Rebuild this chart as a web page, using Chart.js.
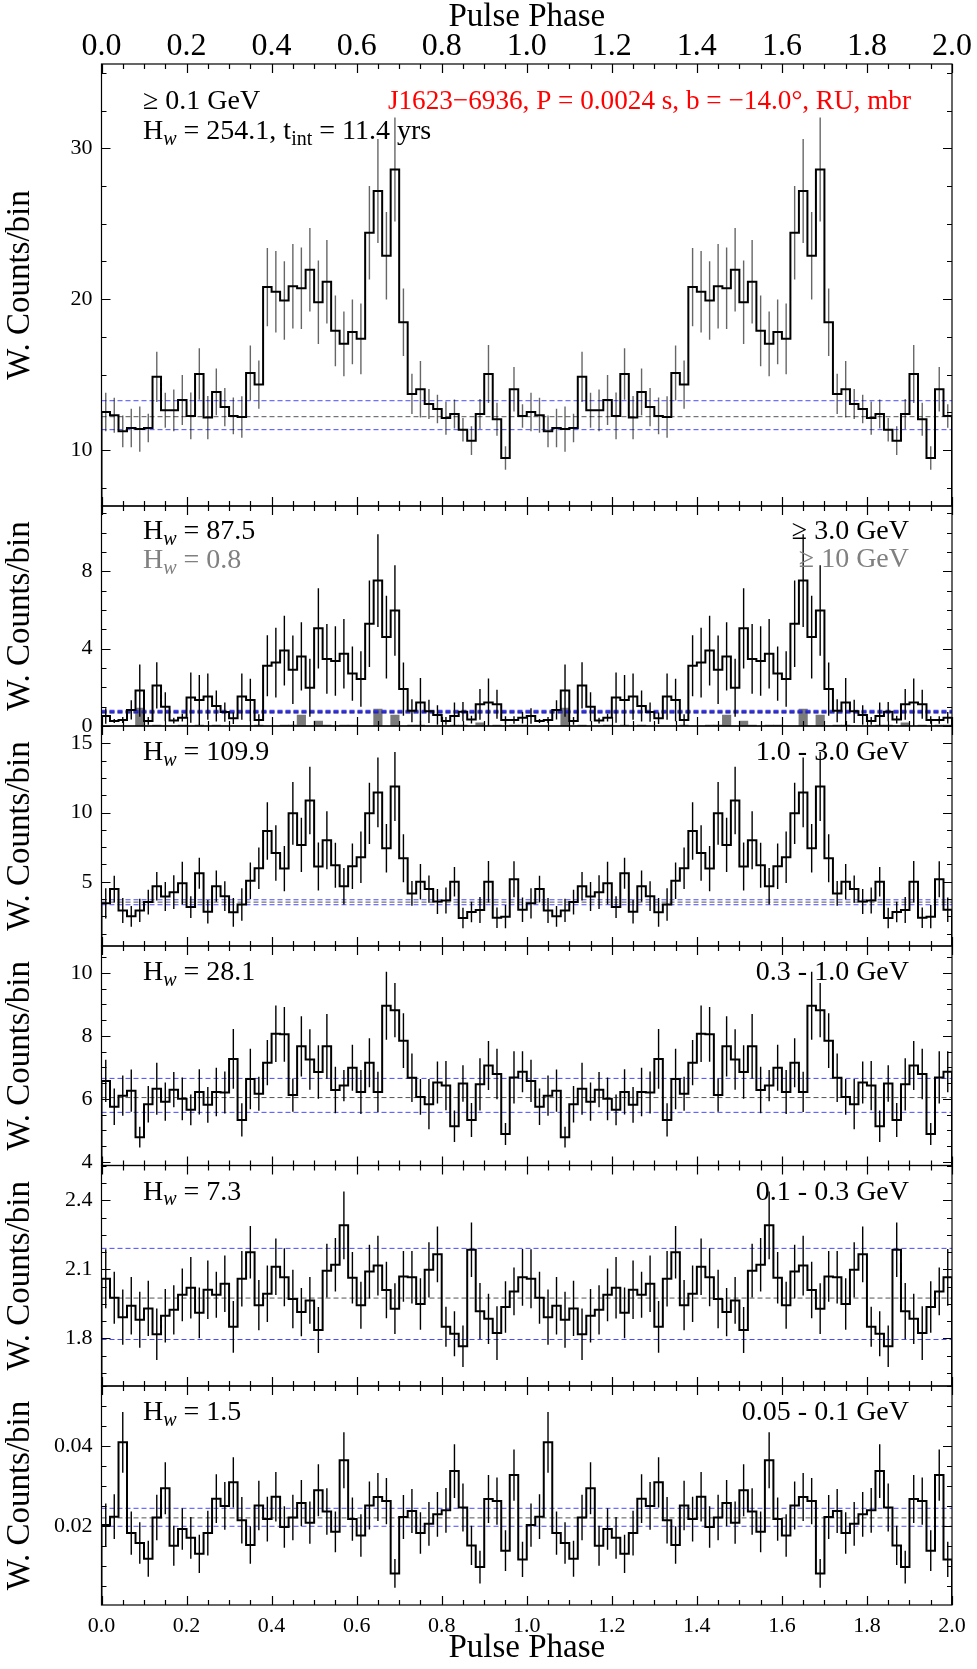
<!DOCTYPE html>
<html><head><meta charset="utf-8">
<script src="https://cdn.jsdelivr.net/npm/chart.js@4.4.1/dist/chart.umd.min.js"></script>
<style>html,body{margin:0;padding:0;background:#fff;}canvas{display:block;}</style>
</head><body>
<canvas id="c" width="977" height="1669"></canvas>
<script>
// ---------------- DATA (one rotation, 50 phase bins; plotted twice) ----------------
const BIN = 0.02;
const xTickValues = [0, 0.2, 0.4, 0.6, 0.8, 1.0, 1.2, 1.4, 1.6, 1.8, 2.0];
const xTickLabels = ['0.0','0.2','0.4','0.6','0.8','1.0','1.2','1.4','1.6','1.8','2.0'];

// >= 0.1 GeV
const countsAll = [12.52,12.3,11.24,11.46,11.39,11.46,14.85,12.63,12.63,13.32,12.26,15.04,12.15,13.85,12.85,12.26,12.19,15.11,14.34,20.8,20.49,19.91,20.86,20.73,21.95,19.8,21.15,17.9,17.04,17.83,17.37,24.4,27.17,22.88,28.6,18.47,13.72,14.03,13.05,12.72,12.12,12.39,11.35,10.62,12.39,15.04,12.04,9.47,14.03,12.26];
const errAll = [1.27,1.16,1.05,1.27,1.5,0.95,1.66,1.16,1.38,1.66,1.55,1.7,1.44,1.55,1.27,1.22,1.38,1.82,1.6,2.6,2.7,2.6,2.8,2.7,2.77,2.77,2.77,2.35,2.15,2.15,2.35,3.1,3.45,2.9,3.45,2.24,1.33,1.88,1.0,0.95,1.1,0.96,0.78,0.95,1.0,1.93,1.1,0.78,1.48,0.78];
const bkgAll = [13.27, 12.21, 11.35];
const yTicksAll = [10, 20, 30];
const yLabelsAll = ['10', '20', '30'];

// >= 3.0 GeV and >= 10 GeV
const counts3 = [0.52,0.26,0.31,0.83,1.83,0.26,2.1,1.0,0.28,0.43,1.47,1.34,1.52,1.03,0.72,0.4,1.52,1.34,0.31,3.12,3.28,3.9,2.91,3.6,1.98,5.05,3.47,3.36,3.74,2.71,2.43,5.29,7.52,4.6,5.97,1.91,0.79,1.21,0.76,0.57,0.26,0.52,0.74,0.33,1.12,1.21,1.12,0.31,0.31,0.43];
const err3 = [0.4,0.1,0.15,0.5,1.35,0.2,1.2,0.75,0.15,0.2,1.3,1.3,1.2,0.8,0.5,0.3,1.2,1.1,0.3,1.58,1.8,1.8,1.77,1.77,1.5,2.07,1.8,1.8,1.8,1.4,1.44,2.24,2.4,2.14,2.34,1.38,0.6,1.27,0.6,0.5,0.2,0.7,0.5,0.2,0.8,1.25,0.75,0.2,0.2,0.3];
const counts10 = [0,0,0,0,0.93,0,0.05,0,0,0.05,0,0.05,0,0.05,0,0,0,0,0.05,0,0,0.05,0.05,0.57,0,0.26,0.05,0,0.05,0.05,0,0,0.88,0,0.57,0,0.05,0.05,0,0,0,0.05,0.05,0,0.17,0,0.05,0,0.05,0.05];
const bkg3 = [0.79, 0.74, 0.69];
const yTicks3 = [0, 4, 8];
const yLabels3 = ['0', '4', '8'];

// 1.0 - 3.0 GeV
const counts13 = [3.44,4.47,2.93,2.5,2.93,3.53,4.68,3.94,4.25,4.9,3.17,5.62,2.84,4.68,3.96,2.79,3.36,5.07,5.98,8.67,7.08,5.95,9.94,7.66,10.87,6.1,8.0,6.19,4.68,6.12,6.77,9.94,11.45,7.42,11.88,6.7,4.16,5.0,4.47,3.58,3.65,5.0,2.38,2.81,2.96,5.0,2.4,2.48,5.19,2.98];
const err13 = [1.1,0.96,0.9,0.75,0.84,0.9,1.03,1.05,1.22,1.55,0.78,1.12,0.85,1.13,1.08,1.04,1.18,1.32,1.5,2.08,2.0,1.64,2.27,1.96,2.43,1.73,2.1,1.62,1.32,1.64,1.86,2.22,2.52,1.76,2.5,1.74,0.9,1.28,0.98,0.9,0.94,1.06,0.74,0.74,0.94,1.5,0.74,0.84,1.3,0.88];
const bkg13 = [3.70, 3.53, 3.34];
const yTicks13 = [5, 10, 15];
const yLabels13 = ['5', '10', '15'];

// 0.3 - 1.0 GeV
const counts031 = [6.57,5.75,6.1,6.26,4.78,5.83,6.32,5.91,6.29,6.0,5.65,6.22,5.81,6.22,6.2,7.27,5.33,6.63,6.16,7.15,8.07,8.05,6.12,7.67,7.25,6.85,7.67,6.28,6.42,6.99,6.22,7.15,6.22,8.96,8.82,7.85,6.67,6.06,5.83,6.52,6.42,5.13,6.49,5.33,6.46,7.06,6.79,4.88,6.68,6.86];
const err031 = [0.67,0.58,0.64,0.67,0.33,0.58,0.83,0.61,0.56,0.68,0.49,0.72,0.57,0.77,0.67,0.95,0.53,0.96,0.54,0.72,0.9,0.87,0.53,0.96,0.96,0.85,1.03,0.74,0.5,0.73,0.7,0.78,0.64,1.08,0.86,0.87,0.77,0.57,0.8,0.67,0.78,0.5,0.58,0.54,0.83,0.78,0.8,0.35,0.83,0.65];
const bkg031 = [6.65, 6.04, 5.57];
const yTicks031 = [4, 6, 8, 10];
const yLabels031 = ['4', '6', '8', '10'];

// 0.1 - 0.3 GeV
const counts0103 = [2.059,1.976,1.892,1.942,1.881,1.930,1.818,1.898,1.924,1.989,2.020,1.911,2.011,1.989,2.037,1.850,2.059,2.174,1.944,1.994,2.111,2.066,1.971,1.914,1.965,1.836,2.094,2.120,2.291,2.063,1.944,2.090,2.116,2.010,1.929,2.069,2.065,1.949,2.098,2.165,1.850,1.820,1.766,2.185,1.918,1.885,1.823,1.936,2.004,2.065];
const err0103 = [0.128,0.113,0.12,0.125,0.122,0.12,0.112,0.116,0.107,0.115,0.134,0.11,0.127,0.1,0.123,0.112,0.121,0.114,0.109,0.123,0.123,0.126,0.127,0.105,0.102,0.1,0.117,0.116,0.147,0.112,0.102,0.117,0.13,0.123,0.11,0.11,0.114,0.112,0.12,0.121,0.087,0.098,0.09,0.118,0.122,0.109,0.117,0.112,0.104,0.123];
const bkg0103 = [2.191, 1.975, 1.795];
const yTicks0103 = [1.8, 2.1, 2.4];
const yLabels0103 = ['1.8', '2.1', '2.4'];

// 0.05 - 0.1 GeV
const counts0501 = [0.0203,0.0224,0.0410,0.0183,0.0158,0.0119,0.0222,0.0295,0.0151,0.0193,0.0171,0.0131,0.0183,0.0269,0.0251,0.0310,0.0215,0.0153,0.0252,0.0218,0.0274,0.0198,0.0222,0.0258,0.0209,0.0290,0.0237,0.0186,0.0365,0.0218,0.0177,0.0252,0.0273,0.0263,0.0082,0.0223,0.0238,0.0183,0.0206,0.0230,0.0240,0.0338,0.0247,0.0152,0.0098,0.0268,0.0263,0.0139,0.0328,0.0117];
const err0501 = [0.0054,0.0056,0.0076,0.0054,0.0052,0.0045,0.0057,0.0065,0.005,0.0052,0.0052,0.0048,0.0056,0.0061,0.006,0.0063,0.0058,0.0047,0.0062,0.0056,0.0062,0.0052,0.0057,0.0058,0.0053,0.0065,0.0058,0.0051,0.007,0.0054,0.0053,0.006,0.006,0.0058,0.0036,0.0055,0.0055,0.0052,0.0055,0.0056,0.0056,0.0067,0.006,0.0049,0.0041,0.006,0.0059,0.0051,0.0064,0.0044];
const bkg0501 = [0.0245, 0.0221, 0.0200];
const yTicks0501 = [0.02, 0.04];
const yLabels0501 = ['0.02', '0.04'];

const hwValues = ['254.1', '87.5', '109.9', '28.1', '7.3', '1.5'];
const hw10 = '0.8';
const energyLabels = ['\u2265 0.1 GeV', '\u2265 3.0 GeV', '1.0 - 3.0 GeV', '0.3 - 1.0 GeV', '0.1 - 0.3 GeV', '0.05 - 0.1 GeV'];
const energy10 = '\u2265 10 GeV';
const tIntYears = '11.4';
const pulsarTitle = 'J1623\u22126936, P = 0.0024 s, b = \u221214.0\u00b0, RU, mbr';

// ---------------- PANEL SETUP ----------------
const FONT = "'Liberation Serif','Times New Roman',serif";
const panels = [
  {id:'y1', c:countsAll, e:errAll, b:bkgAll, t:yTicksAll, l:yLabelsAll, min:6.29, max:35.59, minor:2.5, h:442, ec:'rgba(0,0,0,0.6)', bw:1},
  {id:'y2', c:counts3, e:err3, b:bkg3, t:yTicks3, l:yLabels3, min:0, max:11.38, minor:1, h:220, ec:'#000', bw:2},
  {id:'y3', c:counts13, e:err13, b:bkg13, t:yTicks13, l:yLabels13, min:0.36, max:16.25, minor:1.25, h:220, ec:'#000', bw:1},
  {id:'y4', c:counts031, e:err031, b:bkg031, t:yTicks031, l:yLabels031, min:3.88, max:10.86, minor:0.5, h:219.5, ec:'#000', bw:1},
  {id:'y5', c:counts0103, e:err0103, b:bkg0103, t:yTicks0103, l:yLabels0103, min:1.593, max:2.551, minor:0.075, h:220.5, ec:'#000', bw:1},
  {id:'y6', c:counts0501, e:err0501, b:bkg0501, t:yTicks0501, l:yLabels0501, min:0.0003, max:0.0551, minor:0.005, h:219, ec:'#000', bw:1}
];

const datasets = [];
panels.forEach((p) => {
  const v = p.c.concat(p.c);
  const e = p.e.concat(p.e);
  const n = v.length;
  // closed step outline: rises from the axis floor at phase 0 and falls back to it at phase 2
  const step = [{x: 0, y: p.min}].concat(v.map((y, k) => ({x: k * BIN, y})));
  step.push({x: n * BIN, y: v[n - 1]});
  step.push({x: n * BIN, y: p.min});
  datasets.push({type:'line', data:step, xAxisID:'x', yAxisID:p.id, borderColor:'#000', borderWidth:2,
    stepped:true, pointRadius:0, fill:false, order:0, borderJoinStyle:'miter', tension:0});
  datasets.push({type:'bar', data:v.map((y, k) => ({x:(k + 0.5) * BIN, y:[y - e[k], y + e[k]]})),
    xAxisID:'x', yAxisID:p.id, backgroundColor:p.ec, maxBarThickness:1.4, grouped:false, order:1, borderWidth:0});
  p.b.forEach((lvl, j) => datasets.push({type:'line', data:[{x:0, y:lvl}, {x:2, y:lvl}], xAxisID:'x', yAxisID:p.id,
    borderColor: j === 1 ? 'rgba(40,40,40,0.8)' : 'rgba(40,40,255,0.85)', borderWidth:p.bw, borderDash:[5, 3],
    pointRadius:0, fill:false, order:2}));
});
const g10 = counts10.concat(counts10);
datasets.push({type:'bar', data:g10.map((y, k) => ({x:(k + 0.5) * BIN, y})).filter(d => d.y > 0),
  xAxisID:'x', yAxisID:'y2', backgroundColor:'#7a7a7a', barPercentage:1, categoryPercentage:1, grouped:false,
  order:3, borderWidth:0});

const scales = {
  x: {type:'linear', position:'bottom', min:0, max:2, offset:false,
    afterBuildTicks: s => { s.ticks = xTickValues.map(v => ({value:v})); },
    ticks:{autoSkip:false, maxRotation:0, padding:8, color:'#000', font:{family:FONT, size:22},
      callback:(v, i) => xTickLabels[i]},
    grid:{display:false, drawTicks:false, offset:false}, border:{display:false},
    title:{display:true, text:'Pulse Phase', color:'#000', font:{family:FONT, size:33, lineHeight:1}, padding:{top:0, bottom:4}},
    afterFit: s => { s.height = 64; }},
  x2: {type:'linear', position:'top', min:0, max:2, offset:false,
    afterBuildTicks: s => { s.ticks = xTickValues.map(v => ({value:v})); },
    ticks:{autoSkip:false, maxRotation:0, padding:1, color:'#000', font:{family:FONT, size:32, lineHeight:1},
      callback:(v, i) => xTickLabels[i]},
    grid:{display:false, drawTicks:false, offset:false}, border:{display:false},
    title:{display:true, text:'Pulse Phase', color:'#000', font:{family:FONT, size:33, lineHeight:1}, padding:{top:1, bottom:0}},
    afterFit: s => { s.height = 64; }}
};
panels.forEach((p, i) => {
  scales[p.id] = {type:'linear', position:'left', stack:'panels', stackWeight:p.h, weight:panels.length - i,
    min:p.min, max:p.max,
    afterBuildTicks: s => { s.ticks = p.t.map(v => ({value:v})); },
    ticks:{color:'#000', padding:9, font:{family:FONT, size:22}, callback:(v, k) => p.l[k]},
    grid:{display:false, drawTicks:false}, border:{display:false},
    title:{display:true, text:'W. Counts/bin', color:'#000', font:{family:FONT, size:33, lineHeight:1}, padding:{top:4, bottom:0}},
    afterFit: s => { s.width = 101.5; }};
});

function drawRich(ctx, segs, x, y, align, size, color) {
  const fonts = segs.map(s => (s.it ? 'italic ' : '') + (s.sub ? Math.round(size * 0.72) : size) + 'px ' + FONT);
  let w = 0;
  const widths = segs.map((s, i) => { ctx.font = fonts[i]; const m = ctx.measureText(s.t).width; w += m; return m; });
  let cx = align === 'right' ? x - w : x;
  ctx.fillStyle = color; ctx.textAlign = 'left'; ctx.textBaseline = 'alphabetic';
  segs.forEach((s, i) => { ctx.font = fonts[i]; ctx.fillText(s.t, cx, y + (s.sub ? size * 0.2 : 0)); cx += widths[i]; });
}
const hSegs = (val) => [{t:'H'}, {t:'w', sub:true, it:true}, {t:' = ' + val}];

const decor = {
  id:'decor',
  afterDraw(chart) {
    const ctx = chart.ctx, a = chart.chartArea, xs = chart.scales.x;
    ctx.save();
    ctx.strokeStyle = '#000'; ctx.lineWidth = 1.2;
    panels.forEach(p => {
      const ys = chart.scales[p.id];
      const T = ys.top, B = ys.bottom;
      ctx.beginPath();
      for (let j = 0; j <= 40; j++) {
        const px = Math.round(xs.getPixelForValue(j * 0.05)) + 0.5;
        const L = (j % 4 === 0) ? 9 : 5;
        ctx.moveTo(px, B); ctx.lineTo(px, B - L);
        ctx.moveTo(px, T); ctx.lineTo(px, T + L);
      }
      const k0 = Math.ceil(p.min / p.minor - 1e-6);
      for (let k = k0; k * p.minor <= p.max + 1e-9; k++) {
        const v = k * p.minor;
        const py = Math.round(ys.getPixelForValue(v)) + 0.5;
        const major = p.t.some(t => Math.abs(t - v) < p.minor * 0.01);
        const L = major ? 9 : 5;
        ctx.moveTo(a.left, py); ctx.lineTo(a.left + L, py);
        ctx.moveTo(a.right, py); ctx.lineTo(a.right - L, py);
      }
      ctx.stroke();
      ctx.strokeRect(a.left, T, a.right - a.left, B - T);
    });
    const S = 28, LX = 143, RX = 909;
    panels.forEach((p, i) => {
      const T = chart.scales[p.id].top;
      if (i === 0) {
        drawRich(ctx, [{t:energyLabels[0]}], LX, T + 45, 'left', S, '#000');
        drawRich(ctx, hSegs(hwValues[0] + ', t').concat([{t:'int', sub:true}, {t:' = ' + tIntYears + ' yrs'}]), LX, T + 75, 'left', S, '#000');
        drawRich(ctx, [{t:pulsarTitle}], RX + 2, T + 45, 'right', 27.2, '#ff0000');
      } else if (i === 1) {
        drawRich(ctx, hSegs(hwValues[1]), LX, T + 33, 'left', S, '#000');
        drawRich(ctx, hSegs(hw10), LX, T + 62, 'left', S, '#808080');
        drawRich(ctx, [{t:energyLabels[1]}], RX, T + 33, 'right', S, '#000');
        drawRich(ctx, [{t:energy10}], RX, T + 61, 'right', S, '#808080');
      } else {
        drawRich(ctx, hSegs(hwValues[i]), LX, T + 34, 'left', S, '#000');
        drawRich(ctx, [{t:energyLabels[i]}], RX, T + 34, 'right', S, '#000');
      }
    });
    ctx.restore();
  }
};

new Chart(document.getElementById('c'), {
  type:'line',
  data:{datasets},
  options:{
    responsive:false, animation:false, devicePixelRatio:1,
    layout:{padding:{left:0, right:25, top:0, bottom:0}},
    plugins:{legend:{display:false}, tooltip:{enabled:false}},
    scales
  },
  plugins:[decor]
});
</script>
</body></html>
